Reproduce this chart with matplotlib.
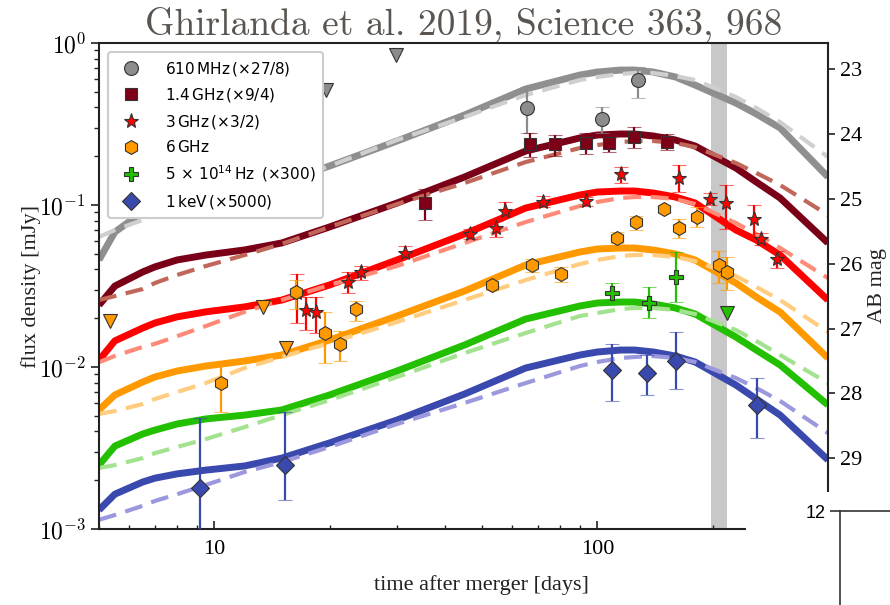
import numpy as np
import matplotlib
matplotlib.use("Agg")
import matplotlib.pyplot as plt
from matplotlib.lines import Line2D
from matplotlib.patches import Rectangle
from matplotlib.ticker import NullFormatter, LogLocator

plt.rcParams['font.family'] = 'serif'
plt.rcParams['font.serif'] = ['Liberation Serif', 'DejaVu Serif']
plt.rcParams['mathtext.fontset'] = 'dejavusans'

# model light curves (days, mJy)
t_model = [5, 5.5, 6.5, 7, 8, 9.5, 12, 15, 20, 30, 45, 65, 90, 100, 115, 125, 140, 160, 180, 230, 260, 300, 400]

gray_solid = [0.0458, 0.0681, 0.0905, 0.0972, 0.1089, 0.1169, 0.1255, 0.1387, 0.1741, 0.2484, 0.3594, 0.520,
              0.634, 0.662, 0.681, 0.681, 0.662, 0.617, 0.550, 0.426, 0.365, 0.299, 0.149]
gray_dash = [0.0635, 0.0701, 0.0808, 0.0855, 0.0958, 0.1074, 0.1203, 0.1367, 0.1741, 0.2519, 0.3493, 0.4775,
             0.591, 0.617, 0.644, 0.653, 0.653, 0.625, 0.591, 0.464, 0.397, 0.325, 0.198]
dred_solid = [0.0241, 0.0316, 0.0386, 0.0415, 0.0458, 0.0491, 0.0528, 0.0583, 0.0732, 0.1029, 0.1489, 0.2154,
              0.2593, 0.2704, 0.2744, 0.2744, 0.2667, 0.2519, 0.2313, 0.1692, 0.1387, 0.1105, 0.0583]
dred_dash = [0.0259, 0.0274, 0.0303, 0.0330, 0.0370, 0.0420, 0.0491, 0.0575, 0.0732, 0.1014, 0.1367, 0.1842,
             0.2248, 0.2346, 0.2448, 0.2484, 0.2484, 0.2413, 0.2280, 0.1816, 0.1577, 0.1329, 0.0868]
red_solid = [0.0110, 0.0145, 0.0174, 0.0187, 0.0204, 0.0219, 0.0235, 0.0259, 0.0321, 0.0458, 0.0662, 0.0958,
             0.1153, 0.1203, 0.1220, 0.1220, 0.1186, 0.1120, 0.1029, 0.0701, 0.0608, 0.0491, 0.0259]
red_dash = [0.0107, 0.0117, 0.0133, 0.0139, 0.0155, 0.0179, 0.0219, 0.0259, 0.0321, 0.0420, 0.0583, 0.0785,
            0.0986, 0.1044, 0.1105, 0.1120, 0.1120, 0.1089, 0.1014, 0.0774, 0.0662, 0.0543, 0.0354]
orange_solid = [0.00543, 0.00672, 0.00808, 0.00868, 0.00945, 0.01014, 0.01089, 0.01186, 0.01468, 0.02064,
                0.02944, 0.04262, 0.05128, 0.05351, 0.05428, 0.05428, 0.05275, 0.04984, 0.04575, 0.03300,
                0.02704, 0.02185, 0.01136]
orange_dash = [0.00513, 0.00535, 0.00591, 0.00635, 0.00701, 0.00796, 0.00986, 0.01153, 0.01406, 0.01896,
               0.02592, 0.03443, 0.04323, 0.04575, 0.04843, 0.04914, 0.04914, 0.04775, 0.04511, 0.03645,
               0.03118, 0.02592, 0.01644]
green_solid = [0.00248, 0.00325, 0.00386, 0.00408, 0.00445, 0.00478, 0.00505, 0.00543, 0.00672, 0.00945,
               0.01367, 0.01978, 0.02380, 0.02484, 0.02519, 0.02519, 0.02448, 0.02313, 0.02124, 0.01532,
               0.01273, 0.01029, 0.00583]
green_dash = [0.00238, 0.00248, 0.00274, 0.00294, 0.00321, 0.00359, 0.00426, 0.00505, 0.00625, 0.00868,
              0.01220, 0.01622, 0.02064, 0.02154, 0.02280, 0.02313, 0.02313, 0.02248, 0.02124, 0.01692,
              0.01447, 0.01186, 0.00796]
blue_solid = [0.00131, 0.00164, 0.00195, 0.00206, 0.00219, 0.00231, 0.00245, 0.00274, 0.00340, 0.00471,
              0.00681, 0.00986, 0.01186, 0.01238, 0.01273, 0.01273, 0.01238, 0.01169, 0.01074, 0.00774,
              0.00635, 0.00505, 0.00267]
blue_dash = [0.00114, 0.00122, 0.00139, 0.00149, 0.00164, 0.00187, 0.00225, 0.00259, 0.00321, 0.00445,
             0.00600, 0.00796, 0.01014, 0.01074, 0.01136, 0.01153, 0.01169, 0.01136, 0.01074, 0.00855,
             0.00742, 0.00617, 0.00391]

# observations: time, flux, lower bound, upper bound
t_610 = [65.4, 102.8, 127.6]
f_610 = [0.397, 0.340, 0.591]
lo_610 = [0.278, 0.278, 0.458]
hi_610 = [0.535, 0.403, 0.711]
t_610_ul = [19.6, 29.9]
f_610_ul = [0.513, 0.843]

t_1g4 = [35.4, 66.6, 77.4, 93.3, 107, 124.5, 152]
f_1g4 = [0.1029, 0.238, 0.238, 0.241, 0.241, 0.263, 0.245]
lo_1g4 = [0.0808, 0.198, 0.201, 0.206, 0.212, 0.225, 0.218]
hi_1g4 = [0.1255, 0.278, 0.270, 0.278, 0.259, 0.303, 0.274]

t_3g = [16.4, 17.4, 18.4, 22.4, 24.2, 31.4, 46.5, 54.3, 57.3, 72, 93.3, 115, 163, 197, 217, 257, 267, 294]
f_3g = [0.0286, 0.0225, 0.0219, 0.0335, 0.0386, 0.0505, 0.0662, 0.0721, 0.0918, 0.1044, 0.1059,
        0.1554, 0.1468, 0.1089, 0.1029, 0.0820, 0.0617, 0.0464]
lo_3g = [0.0187, 0.0169, 0.0162, 0.0286, 0.0344, 0.0478, 0.0617, 0.0635, 0.0843, 0.0972, 0.0986,
         0.1367, 0.1203, 0.1000, 0.0711, 0.0617, 0.0566, 0.0408]
hi_3g = [0.0375, 0.0270, 0.0270, 0.0386, 0.0420, 0.0558, 0.0711, 0.0796, 0.1044, 0.1136, 0.1120,
         0.1716, 0.1766, 0.1186, 0.1329, 0.1000, 0.0672, 0.0520]

t_6g = [10.4, 16.3, 19.4, 21.3, 23.5, 53, 67.5, 80.3, 112.5, 126, 149, 163, 182, 208, 218]
f_6g = [0.00796, 0.0290, 0.0162, 0.0139, 0.0228, 0.0321, 0.0426, 0.0375, 0.0625, 0.0785, 0.0945,
        0.0721, 0.0843, 0.0426, 0.0386]
lo_6g = [0.00528, 0.0229, 0.0106, 0.0109, 0.0192, 0.0299, 0.0386, 0.0335, 0.0583, 0.0701, 0.0905,
         0.0625, 0.0732, 0.0330, 0.0299]
hi_6g = [0.01059, 0.0344, 0.0219, 0.0167, 0.0256, 0.0354, 0.0464, 0.0415, 0.0681, 0.0855, 0.0986,
         0.0820, 0.0972, 0.0520, 0.0478]
t_6g_ul = [5.35, 13.4, 15.35]
f_6g_ul = [0.0192, 0.0235, 0.0131]

t_opt = [109, 136.5, 160]
f_opt = [0.0286, 0.0248, 0.0359]
lo_opt = [0.0259, 0.0201, 0.0252]
hi_opt = [0.0330, 0.0312, 0.0513]
t_opt_ul = [218]
f_opt_ul = [0.0216]

t_x = [9.2, 15.3, 109, 134.5, 160, 261]
f_x = [0.00179, 0.00248, 0.00958, 0.00918, 0.01089, 0.00583]
lo_x = [0.0009, 0.00151, 0.00617, 0.00672, 0.00732, 0.00365]
hi_x = [0.00484, 0.00528, 0.01387, 0.01186, 0.01644, 0.00855]

labels = ['610$\\,$MHz$\\,$(×27/8)', '1.4$\\,$GHz$\\,$(×9/4)', '3$\\,$GHz$\\,$(×3/2)', '6$\\,$GHz',
          '$5\\,\\times\\,10^{14}\\,$Hz$\\,$ (×300)', '1$\\,$keV$\\,$(×5000)']

c_gray, c_dred, c_red, c_orange, c_green, c_blue = '#8c8c8c', '#7d0016', '#ff0000', '#ff9900', '#22c000', '#3a49ad'
edge = '#333333'


def to_ab(f):
    # optical flux is scaled by 300 before conversion to AB magnitude
    return -2.5 * np.log10(np.asarray(f) / 300.0 / 1e3 / 3631.0)


fig = plt.figure(figsize=(8.9, 6.05), dpi=100)
ax = fig.add_axes([0.1112, 0.1256, 0.8191, 0.8033])
ax.set_xscale('log')
ax.set_yscale('log')

ax.axvspan(198, 218, color='#c8c8c8', lw=0, zorder=0.5)

curves = [(gray_solid, gray_dash, '#8f8f8f', '#cfcfcf'),
          (dred_solid, dred_dash, '#7a0018', '#c0675a'),
          (red_solid, red_dash, '#ff0000', '#ff8a78'),
          (orange_solid, orange_dash, '#ff9900', '#ffcc80'),
          (green_solid, green_dash, '#22c000', '#a3e38f'),
          (blue_solid, blue_dash, '#3a49ad', '#9b98de')]
for solid, dash, cs, cd in curves:
    ax.plot(t_model, solid, color=cs, lw=5, solid_capstyle='butt', solid_joinstyle='round', zorder=2)
    ax.plot(t_model, dash, color=cd, lw=3, dashes=(4.3, 2.3), zorder=2.2)

points = [(t_610, f_610, lo_610, hi_610, c_gray, 'o', 10),
          (t_1g4, f_1g4, lo_1g4, hi_1g4, c_dred, 's', 9),
          (t_3g, f_3g, lo_3g, hi_3g, c_red, '*', 11),
          (t_6g, f_6g, lo_6g, hi_6g, c_orange, 'h', 10),
          (t_opt, f_opt, lo_opt, hi_opt, c_green, 'P', 10),
          (t_x, f_x, lo_x, hi_x, c_blue, 'D', 9)]
for t, f, lo, hi, c, m, ms in points:
    f = np.array(f)
    yerr = [f - np.array(lo), np.array(hi) - f]
    eb = ax.errorbar(t, f, yerr=yerr, fmt=m, color=c, mfc=c, mec=edge, mew=0.8, ms=ms,
                     elinewidth=1.6, capsize=5, capthick=1.2, zorder=3)
    for cap in eb[1]:
        cap.set_alpha(0.6)

for t, f, c in [(t_610_ul, f_610_ul, c_gray), (t_6g_ul, f_6g_ul, c_orange), (t_opt_ul, f_opt_ul, c_green)]:
    ax.plot(t, f, 'v', color=c, mec=edge, mew=0.8, ms=10, ls='none', zorder=3)

ax.set_xlim(5, 400)
ax.set_ylim(1e-3, 1)
ax.set_xticks([10, 100])
ax.set_xticklabels(['10', '100'])
ax.xaxis.set_minor_locator(LogLocator(base=10, subs=np.arange(2, 10)))
ax.xaxis.set_minor_formatter(NullFormatter())
ax.set_yticks([1e-3, 1e-2, 1e-1, 1])
ax.set_yticklabels(['$10^{-3}$', '$10^{-2}$', '$10^{-1}$', '$10^{0}$'], math_fontfamily='cm')
ax.yaxis.set_minor_formatter(NullFormatter())
ax.tick_params(axis='x', which='both', direction='in', labelsize=16, color='#222222')
ax.tick_params(axis='x', which='major', length=6, width=1.2, pad=8)
ax.tick_params(axis='x', which='minor', length=3, width=1)
ax.tick_params(axis='y', which='both', direction='out', labelsize=17, color='#222222')
ax.tick_params(axis='y', which='major', length=6, width=1.2)
ax.tick_params(axis='y', which='minor', length=3.5, width=1)
for s in ax.spines.values():
    s.set_linewidth(1.5)
    s.set_color('#222222')

ax.set_xlabel('time after merger [days]', fontsize=16, color='#222222')
ax.xaxis.set_label_coords(0.525, -0.095)
ax.set_ylabel('flux density [mJy]', fontsize=16, color='#222222', labelpad=-2)
ax.set_title('Ghirlanda et al. 2019, Science 363, 968', fontsize=27, fontfamily='cmr10',
             color='#5a5550', pad=6)

ax2 = ax.twinx()
ax2.set_ylim(to_ab(1e-3), to_ab(1.0))
ax2.set_yticks([23, 24, 25, 26, 27, 28, 29, 30])
ax2.tick_params(axis='y', direction='out', length=5, width=1.2, labelsize=16, color='#222222')
for s in ax2.spines.values():
    s.set_visible(False)
ax2.set_ylabel('AB mag', fontsize=16, color='#222222')

handles = [Line2D([], [], marker=m, ls='none', color=c, mec=edge, mew=0.8, ms=ms)
           for _, _, _, _, c, m, ms in points]
leg = ax.legend(handles, labels, loc='upper left', prop={'family': 'DejaVu Sans', 'size': 11},
                framealpha=1, edgecolor='#cccccc', handletextpad=1.2, labelspacing=0.55,
                borderpad=0.5, borderaxespad=0.6)
leg.get_frame().set_linewidth(1.5)
leg.set_zorder(10)

# second panel underneath, only its top-left corner shows
fig.patches.append(Rectangle((746 / 890, 0), 1 - 746 / 890, (605 - 492) / 605,
                             transform=fig.transFigure, facecolor='white', edgecolor='none', zorder=5))
ax3 = fig.add_axes([840 / 890, -106 / 605, 0.2, 200 / 605], zorder=6)
ax3.patch.set_alpha(0)
ax3.set_ylim(4, 12)
ax3.set_yticks([8, 12])
ax3.set_xticks([])
ax3.tick_params(axis='y', direction='out', length=7, width=1.2, labelsize=13, color='#333333')
for lab in ax3.get_yticklabels():
    lab.set_fontfamily('Liberation Sans')
for s in ax3.spines.values():
    s.set_color('#333333')
    s.set_linewidth(1.2)

fig.savefig('out.png', dpi=100)
